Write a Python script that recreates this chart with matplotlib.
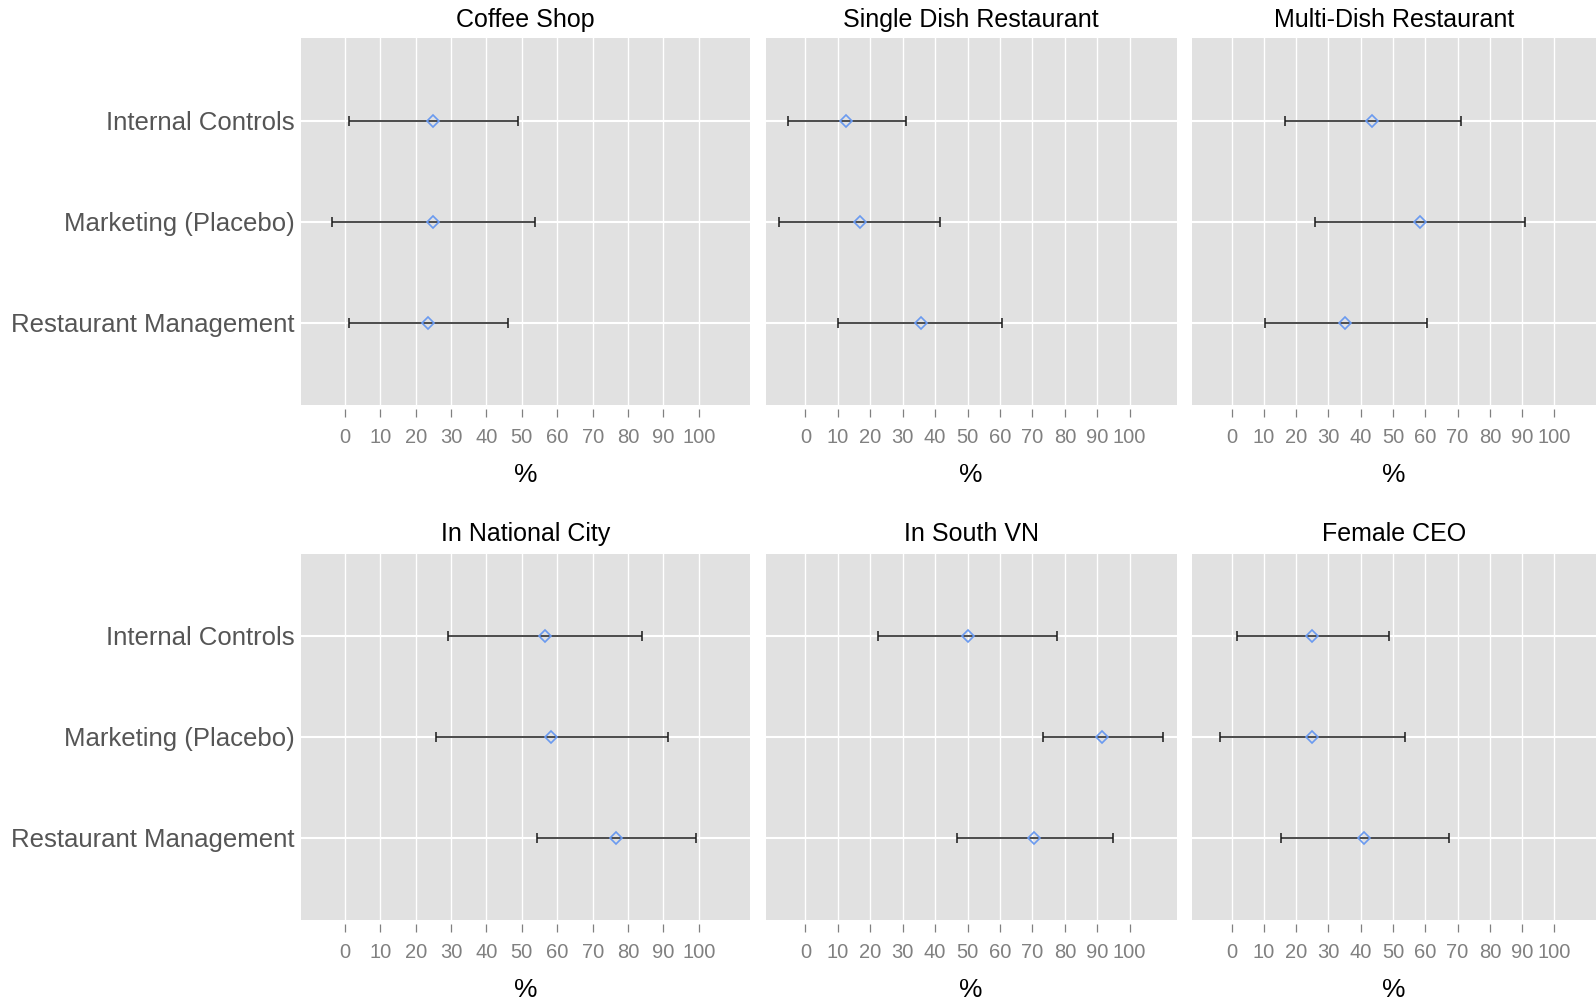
import matplotlib
matplotlib.use("Agg")
import matplotlib.pyplot as plt
import numpy as np

W, H = 1596, 1005

# --- data ---
treatments = ["Internal Controls", "Marketing (Placebo)", "Restaurant Management"]
panel_titles = ["Coffee Shop", "Single Dish Restaurant", "Multi-Dish Restaurant",
                "In National City", "In South VN", "Female CEO"]

est_coffee = [25.0, 25.0, 23.6]
lo_coffee = [1.1, -3.6, 1.1]
hi_coffee = [49.0, 53.8, 46.2]

est_single = [12.5, 16.7, 35.5]
lo_single = [-5.5, -8.0, 10.2]
hi_single = [30.9, 41.6, 60.5]

est_multi = [43.6, 58.4, 35.1]
lo_multi = [16.6, 25.8, 10.4]
hi_multi = [71.2, 91.0, 60.5]

est_natcity = [56.4, 58.3, 76.5]
lo_natcity = [29.1, 25.8, 54.4]
hi_natcity = [84.0, 91.3, 99.3]

est_south = [50.0, 91.6, 70.6]
lo_south = [22.4, 73.2, 46.7]
hi_south = [77.6, 110.2, 95.0]

est_female = [24.9, 24.9, 41.1]
lo_female = [1.5, -3.7, 15.4]
hi_female = [48.8, 53.8, 67.4]

panels = [
    (est_coffee, lo_coffee, hi_coffee),
    (est_single, lo_single, hi_single),
    (est_multi, lo_multi, hi_multi),
    (est_natcity, lo_natcity, hi_natcity),
    (est_south, lo_south, hi_south),
    (est_female, lo_female, hi_female),
]
xticks = list(range(0, 101, 10))

# --- layout in pixels (left, right) / (top, bottom) ---
cols = [(301.3, 750.2), (765.5, 1176.7), (1192.0, 1596.0)]
col_xmax = [114.5, 114.5, 112.9]   # right-hand column is cut at the image edge
rows = [(38.5, 405.0), (553.5, 920.0)]
title_y = [20.0, 534.0]
pct_y = [475.0, 989.5]

plt.rcParams['font.family'] = ['Liberation Sans', 'DejaVu Sans']
fig = plt.figure(figsize=(W / 100, H / 100), dpi=100)
fig.patch.set_facecolor('white')

for i, (est, lo, hi) in enumerate(panels):
    r, c = divmod(i, 3)
    x0, x1 = cols[c]
    y0, y1 = rows[r]
    ax = fig.add_axes([x0 / W, 1 - y1 / H, (x1 - x0) / W, (y1 - y0) / H])
    ax.set_facecolor('#e1e1e1')
    for s in ax.spines.values():
        s.set_visible(False)
    ax.spines['bottom'].set_position(('outward', 3))

    ypos = np.arange(len(treatments))
    est = np.array(est)
    err = [est - np.array(lo), np.array(hi) - est]
    ax.errorbar(est, ypos, xerr=err, fmt='none', ecolor='#1a1a1a',
                elinewidth=1.1, capsize=3.3, capthick=1.1, zorder=3)
    ax.plot(est, ypos, linestyle='none', marker='D', markersize=6.3,
            markerfacecolor='none', markeredgecolor='#6a9af0',
            markeredgewidth=1.2, zorder=4)

    ax.set_xlim(-12.3, col_xmax[c])
    ax.set_ylim(2.815, -0.815)
    ax.set_xticks(xticks)
    ax.set_xticklabels([str(t) for t in xticks])
    ax.set_yticks(ypos)
    ax.grid(axis='x', color='white', linewidth=1.0, zorder=1)
    ax.grid(axis='y', color='white', linewidth=1.5, zorder=1)
    ax.set_axisbelow(True)
    ax.tick_params(axis='x', direction='out', length=6, width=0.9,
                   color='#808080', labelcolor='#808080', labelsize=14.5, pad=7.5)
    if c == 0:
        ax.set_yticklabels(treatments)
        ax.tick_params(axis='y', length=0, pad=5, labelsize=18.5,
                       labelcolor='#555555')
    else:
        ax.set_yticklabels([])
        ax.tick_params(axis='y', length=0)

    xc = (x0 + x1) / 2 / W
    fig.text(xc, 1 - title_y[r] / H, panel_titles[i], ha='center', va='center',
             fontsize=18, color='black')
    fig.text(xc, 1 - pct_y[r] / H, '%', ha='center', va='center',
             fontsize=19, color='black')

fig.savefig('out.png', dpi=100)
